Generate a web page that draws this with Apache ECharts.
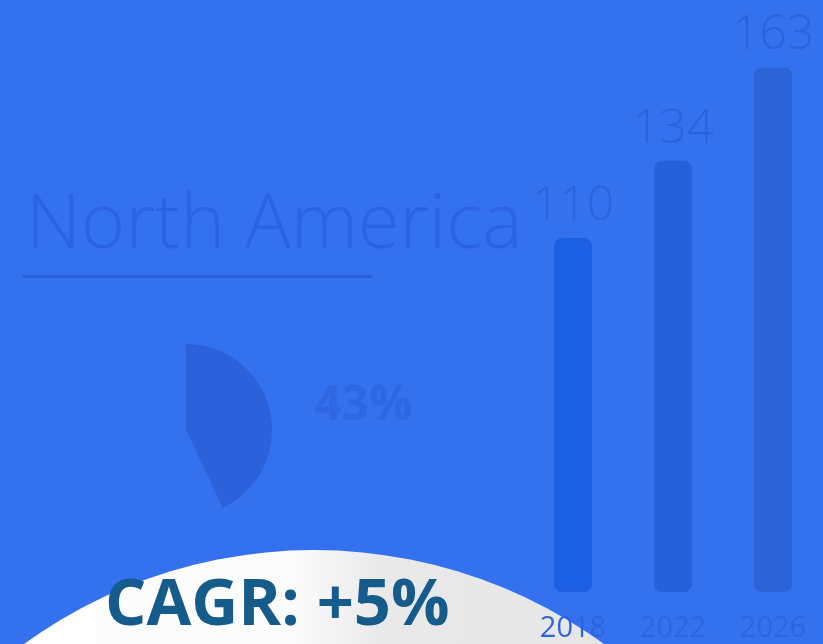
<!DOCTYPE html>
<html>
<head>
<meta charset="utf-8">
<script src="https://cdn.jsdelivr.net/npm/echarts@6/dist/echarts.min.js"></script>
<style>
    html, body { margin: 0; padding: 0; background: #3371ee; }
    #chart { width: 823px; height: 644px; }
</style>
</head>
<body>
<div id="chart"></div>
<script>
// market size by year
const years = ['2018', '2022', '2026'];
const marketSize = [110, 134, 163];
const barColors = ['#1b5fe2', '#2661da', '#2b64d7'];
// region share
const regionName = 'North America';
const regionShare = 43;
const cagrText = 'CAGR: +5%';

const chart = echarts.init(document.getElementById('chart'));

const option = {
    backgroundColor: '#3371ee',
    animation: false,
    grid: { left: 523, right: 0, top: 0, bottom: 52 },
    xAxis: {
        type: 'category',
        data: years,
        axisLine: { show: false },
        axisTick: { show: false },
        axisLabel: {
            color: '#2f65dc',
            fontFamily: 'Open Sans',
            fontSize: 29,
            margin: 22
        },
        z: 10
    },
    yAxis: {
        type: 'value',
        min: 0,
        max: 184,
        show: false,
        splitLine: { show: false }
    },
    graphic: [
        {
            type: 'text',
            left: 26,
            top: 188,
            style: {
                text: regionName,
                fill: '#2b63e2',
                font: '300 76px "Open Sans"'
            }
        },
        {
            type: 'rect',
            shape: { x: 22, y: 275, width: 350, height: 3 },
            style: { fill: '#2a60dc' }
        },
        {
            type: 'text',
            left: 314,
            top: 382,
            style: {
                text: regionShare + '%',
                fill: '#2f67e0',
                font: 'bold 48px "Open Sans"'
            }
        },
        {
            type: 'circle',
            shape: { cx: 314, cy: 1044, r: 494 },
            style: {
                fill: new echarts.graphic.LinearGradient(0, 0, 1, 0, [
                    { offset: 0, color: '#ffffff' },
                    { offset: 0.48, color: '#fbfbfb' },
                    { offset: 0.57, color: '#e9e9e9' },
                    { offset: 1, color: '#e4e4e4' }
                ])
            },
            z: 5
        },
        {
            type: 'text',
            left: 105,
            top: 574,
            style: {
                text: cagrText,
                fill: '#155b8c',
                font: 'bold 65px "Open Sans"'
            },
            z: 6
        }
    ],
    series: [
        {
            type: 'bar',
            data: marketSize.map((v, i) => ({ value: v, itemStyle: { color: barColors[i] } })),
            barWidth: 38,
            itemStyle: { borderRadius: 8 },
            label: {
                show: true,
                position: 'top',
                distance: 8,
                color: '#2a62e0',
                fontFamily: 'Open Sans',
                fontWeight: 300,
                fontSize: 48
            }
        },
        {
            type: 'pie',
            center: [186, 430],
            radius: [0, 86],
            startAngle: 90,
            clockwise: true,
            silent: true,
            label: { show: false },
            labelLine: { show: false },
            data: [
                { value: regionShare, itemStyle: { color: '#2b61d9' } },
                { value: 100 - regionShare, itemStyle: { color: '#3371ee' } }
            ]
        }
    ]
};

chart.setOption(option);
</script>
</body>
</html>
